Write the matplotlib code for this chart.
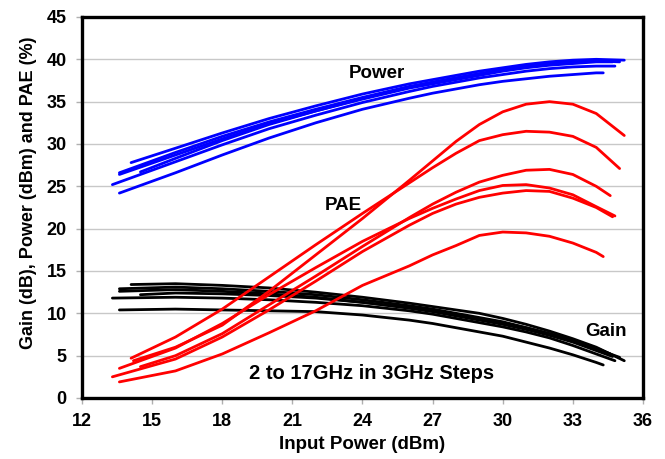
import matplotlib
matplotlib.use("Agg")
import matplotlib.pyplot as plt

plt.rcParams['font.family'] = ['Liberation Sans', 'DejaVu Sans']
plt.rcParams['font.weight'] = 'bold'

# common input power grid (dBm); each curve adds its own first and last point
pin_grid = [16, 18, 20, 22, 24, 26, 27, 28, 29, 30, 31, 32, 33, 34]

# output power (dBm), one curve per frequency 2..17 GHz
power_start = [14.1, 13.6, 14.5, 13.3, 13.6, 13.6]
power_end = [35.2, 35.0, 34.6, 34.8, 34.7, 34.3]
power_vals = [
    [27.8, 29.5, 31.3, 33.0, 34.5, 35.9, 37.1, 37.6, 38.1, 38.6, 39.0, 39.4, 39.7, 39.9, 40.0, 39.9],
    [26.6, 29.0, 30.9, 32.6, 34.1, 35.5, 36.8, 37.3, 37.8, 38.3, 38.7, 39.1, 39.4, 39.6, 39.8, 39.7],
    [26.7, 28.3, 30.4, 32.3, 33.9, 35.4, 36.7, 37.3, 37.8, 38.3, 38.8, 39.2, 39.5, 39.7, 39.8, 39.8],
    [25.2, 27.9, 29.9, 31.8, 33.4, 34.9, 36.2, 36.8, 37.3, 37.8, 38.2, 38.6, 38.9, 39.1, 39.2, 39.2],
    [26.4, 28.7, 30.6, 32.4, 33.9, 35.3, 36.6, 37.1, 37.6, 38.1, 38.6, 39.0, 39.3, 39.5, 39.7, 39.7],
    [24.2, 26.6, 28.7, 30.7, 32.5, 34.1, 35.4, 36.0, 36.5, 37.0, 37.4, 37.7, 38.0, 38.2, 38.4, 38.4],
]

# gain (dB)
gain_start = [14.1, 13.6, 14.5, 13.3, 13.6, 13.6]
gain_end = [35.2, 35.0, 34.6, 34.8, 34.7, 34.3]
gain_vals = [
    [13.4, 13.5, 13.3, 13.0, 12.5, 11.9, 11.2, 10.8, 10.4, 10.0, 9.4, 8.7, 7.9, 7.0, 6.0, 4.4],
    [12.9, 13.1, 12.9, 12.6, 12.2, 11.6, 10.9, 10.5, 10.0, 9.5, 9.0, 8.3, 7.6, 6.7, 5.8, 4.8],
    [12.2, 12.4, 12.3, 12.1, 11.8, 11.3, 10.7, 10.3, 9.9, 9.4, 8.9, 8.3, 7.6, 6.8, 5.9, 5.2],
    [11.8, 11.9, 11.8, 11.6, 11.3, 10.9, 10.3, 9.9, 9.4, 8.9, 8.4, 7.8, 7.1, 6.2, 5.2, 4.4],
    [12.6, 12.8, 12.6, 12.3, 11.9, 11.3, 10.6, 10.2, 9.7, 9.2, 8.7, 8.1, 7.4, 6.6, 5.6, 4.9],
    [10.4, 10.5, 10.4, 10.3, 10.2, 9.8, 9.2, 8.8, 8.3, 7.8, 7.3, 6.6, 5.9, 5.1, 4.2, 3.9],
]

# PAE (%)
pae_start = [14.2, 14.1, 14.5, 13.6, 13.3, 13.6]
pae_end = [35.2, 35.0, 34.6, 34.8, 34.7, 34.3]
pae_vals = [
    [4.4, 6.0, 8.6, 12.6, 16.9, 21.2, 25.7, 28.0, 30.3, 32.3, 33.8, 34.7, 35.0, 34.7, 33.6, 31.0],
    [4.7, 7.2, 10.5, 14.3, 18.1, 21.8, 25.4, 27.2, 28.9, 30.4, 31.1, 31.5, 31.4, 30.9, 29.6, 27.1],
    [3.7, 5.0, 7.6, 11.0, 14.4, 17.9, 21.3, 22.9, 24.3, 25.5, 26.3, 26.9, 27.0, 26.4, 25.0, 23.9],
    [3.5, 5.9, 8.8, 12.2, 15.4, 18.5, 21.2, 22.4, 23.5, 24.5, 25.1, 25.2, 24.8, 24.0, 22.6, 21.5],
    [2.5, 4.6, 7.2, 10.4, 13.8, 17.3, 20.4, 21.8, 22.9, 23.7, 24.2, 24.5, 24.4, 23.6, 22.5, 21.4],
    [1.9, 3.2, 5.2, 7.7, 10.3, 13.3, 15.6, 16.9, 18.0, 19.2, 19.6, 19.5, 19.1, 18.3, 17.2, 16.7],
]

fig = plt.figure(figsize=(6.65, 4.59), dpi=100)
ax = fig.add_axes([0.1233, 0.1329, 0.8436, 0.8301])

def draw(starts, ends, vals, color):
    for s, e, v in zip(starts, ends, vals):
        ax.plot([s] + pin_grid + [e], v, color=color, lw=2.0,
                solid_capstyle='round', solid_joinstyle='round', zorder=3)

draw(power_start, power_end, power_vals, '#0000ff')
draw(gain_start, gain_end, gain_vals, 'black')
draw(pae_start, pae_end, pae_vals, '#ff0000')

ax.set_xlim(12, 36)
ax.set_ylim(0, 45)
ax.set_xticks(range(12, 37, 3))
ax.set_yticks(range(0, 46, 5))
ax.yaxis.grid(True, color='#c8c8c8', lw=1.0)
ax.set_axisbelow(True)
for sp in ax.spines.values():
    sp.set_linewidth(2.4)
    sp.set_color('black')
ax.tick_params(axis='both', direction='out', length=4, width=1, color='#b0b0b0',
               labelsize=13)
ax.tick_params(axis='x', pad=7)
ax.tick_params(axis='y', pad=7)
for lab in ax.get_xticklabels() + ax.get_yticklabels():
    lab.set_fontweight('bold')

ax.set_xlabel('Input Power (dBm)', fontsize=13.5, fontweight='bold', labelpad=4)
ax.set_ylabel('Gain (dB), Power (dBm) and PAE (%)', fontsize=13, fontweight='bold')
ax.yaxis.set_label_coords(-0.080, 0.538)

ax.text(24.6, 38.3, 'Power', fontsize=13.5, fontweight='bold', ha='center', va='center')
ax.text(23.2, 22.7, 'PAE', fontsize=13.5, fontweight='bold', ha='center', va='center')
ax.text(34.4, 7.9, 'Gain', fontsize=13.5, fontweight='bold', ha='center', va='center')
ax.text(24.4, 2.85, '2 to 17GHz in 3GHz Steps', fontsize=14.5, fontweight='bold',
        ha='center', va='center')

fig.savefig('out.png', dpi=100)
